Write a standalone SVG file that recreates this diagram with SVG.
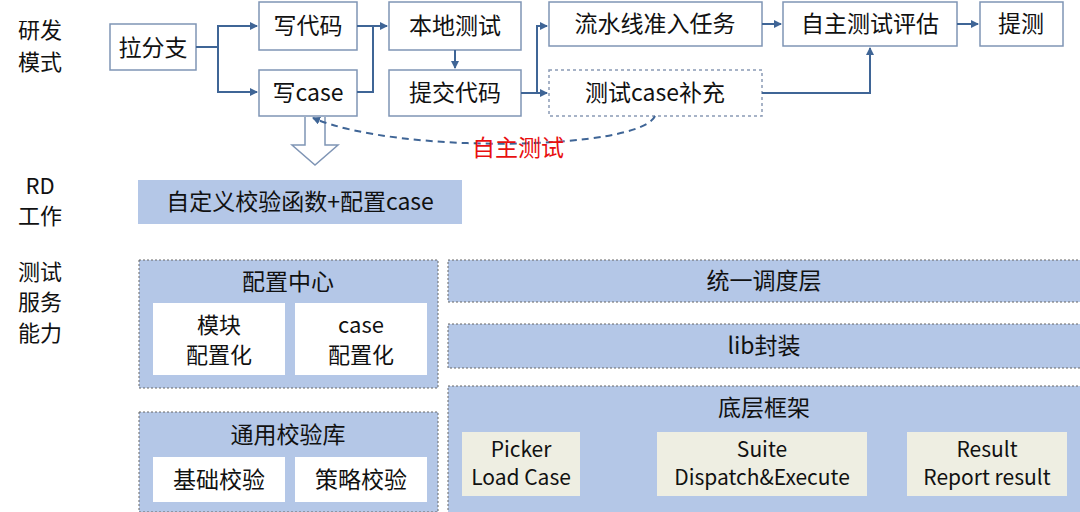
<svg xmlns="http://www.w3.org/2000/svg" width="1080" height="512" viewBox="0 0 1080 512">
<defs>
<style>
text{font-family:"Noto Sans CJK SC","Noto Sans",sans-serif;font-size:23px;fill:#111;text-anchor:middle}
.s{font-size:21px}
.m{font-size:22px}
.n{fill:#fff;stroke:#7f95b5;stroke-width:1.5}
.d{fill:#fff;stroke:#8a9ab5;stroke-width:1.5;stroke-dasharray:3 3}
.p{fill:#b4c7e7;stroke:#666;stroke-width:1;stroke-dasharray:2 2}
.w{fill:#fff}
.b{fill:#eeeee2}
.c{fill:none;stroke:#3f6596;stroke-width:2}
.k{fill:none;stroke:#111;stroke-width:1.5}
</style>
<marker id="a" markerWidth="8" markerHeight="8" refX="7" refY="4" orient="auto" markerUnits="userSpaceOnUse"><path d="M0,0L8,4L0,8z" fill="#3f6596"/></marker>
<marker id="k" markerWidth="9" markerHeight="9" refX="8" refY="4.5" orient="auto" markerUnits="userSpaceOnUse"><path d="M0,0L9,4.5L0,9z" fill="#111"/></marker>
</defs>
<g id="labels">
<text class="m" x="40" y="38">研发</text><text class="m" x="40" y="70">模式</text>
<text class="m" x="40" y="194">RD</text><text class="m" x="40" y="224">工作</text>
<text class="m" x="40" y="280">测试</text><text class="m" x="40" y="310">服务</text><text class="m" x="40" y="341">能力</text>
</g>
<g id="n1"><rect class="n" x="110" y="24" width="86" height="46"/><text x="153" y="56">拉分支</text></g>
<g id="n2"><rect class="n" x="259" y="2" width="98" height="48"/><text x="308" y="34">写代码</text></g>
<g id="n3"><rect class="n" x="259" y="70" width="98" height="46"/><text x="308" y="101">写case</text></g>
<g id="n4"><rect class="n" x="389" y="2" width="132" height="48"/><text x="455" y="34">本地测试</text></g>
<g id="n5"><rect class="n" x="389" y="70" width="132" height="46"/><text x="455" y="101">提交代码</text></g>
<g id="n6"><rect class="n" x="549" y="2" width="213" height="44"/><text x="655" y="32">流水线准入任务</text></g>
<g id="n7"><rect class="d" x="549" y="70" width="213" height="46"/><text x="655" y="101">测试case补充</text></g>
<g id="n8"><rect class="n" x="783" y="2" width="174" height="44"/><text x="870" y="32">自主测试评估</text></g>
<g id="n9"><rect class="n" x="980" y="2" width="83" height="44"/><text x="1021" y="32">提测</text></g>
<g id="connectors">
<path d="M305,117V145H292L315,165L338,145H325V117" fill="#fff" stroke="#7f95b5" stroke-width="1.5"/>
<path class="c" d="M196,47H218V26H257" marker-end="url(#a)"/>
<path class="c" d="M218,47V92H257" marker-end="url(#a)"/>
<path class="c" d="M357,26H373" /><path class="c" d="M357,92H373V26H387" marker-end="url(#a)"/>
<path class="c" d="M455,50V68" marker-end="url(#a)"/>
<path class="c" d="M521,93H537V26H547" marker-end="url(#a)"/>
<path class="c" d="M537,93H547" marker-end="url(#a)"/>
<path class="c" d="M762,24H781" marker-end="url(#a)"/>
<path class="c" d="M957,24H978" marker-end="url(#a)"/>
<path class="c" d="M762,93H870V48" marker-end="url(#a)"/>
<path class="c" d="M655,116C640,150 400,155 313,118" stroke-dasharray="7 5" marker-end="url(#a)"/>
<path class="k" d="M580,464H652" marker-end="url(#k)"/>
<path class="k" d="M870,464H902" marker-end="url(#k)"/>
</g>
<text x="518" y="156" style="fill:#e81010">自主测试</text>
<g id="rd"><rect x="138" y="180" width="324" height="44" fill="#b4c7e7"/><text x="300" y="210">自定义校验函数+配置case</text></g>
<g id="cfg"><rect class="p" x="139" y="260" width="299" height="128"/><text x="288" y="290">配置中心</text>
<rect class="w" x="153" y="303" width="132" height="72"/><text class="m" x="219" y="333">模块</text><text class="m" x="219" y="363">配置化</text>
<rect class="w" x="295" y="303" width="132" height="72"/><text class="m" x="361" y="333">case</text><text class="m" x="361" y="363">配置化</text></g>
<g id="lib"><rect class="p" x="139" y="412" width="299" height="100"/><text x="288" y="443">通用校验库</text>
<rect class="w" x="153" y="457" width="132" height="45"/><text x="219" y="488">基础校验</text>
<rect class="w" x="295" y="457" width="132" height="45"/><text x="361" y="488">策略校验</text></g>
<g id="sched"><rect class="p" x="448" y="260" width="640" height="42"/><text x="764" y="289">统一调度层</text></g>
<g id="libw"><rect class="p" x="448" y="324" width="640" height="44"/><text x="764" y="354">lib封装</text></g>
<g id="base"><rect class="p" x="448" y="386" width="640" height="130"/><text x="764" y="416">底层框架</text>
<rect class="b" x="462" y="432" width="118" height="64"/><text class="s" x="521" y="457">Picker</text><text class="s" x="521" y="485">Load Case</text>
<rect class="b" x="657" y="432" width="210" height="64"/><text class="s" x="762" y="457">Suite</text><text class="s" x="762" y="485">Dispatch&amp;Execute</text>
<rect class="b" x="907" y="432" width="160" height="64"/><text class="s" x="987" y="457">Result</text><text class="s" x="987" y="485">Report result</text></g>
</svg>
